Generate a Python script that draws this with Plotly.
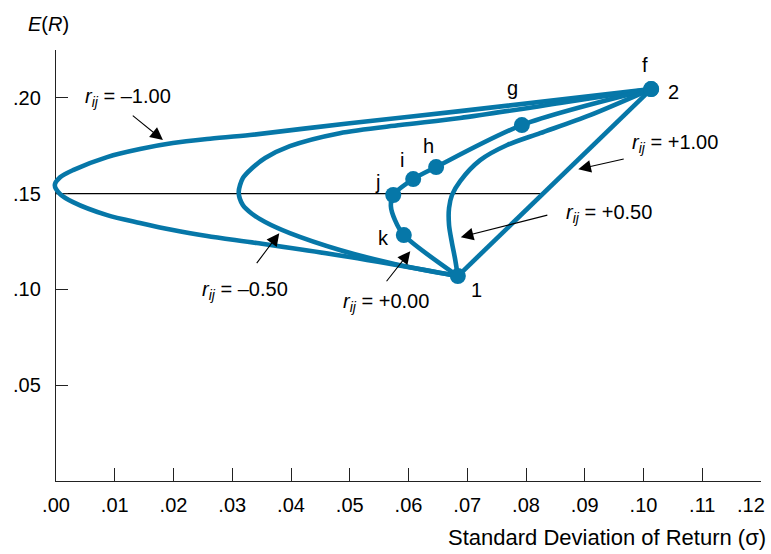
import plotly.graph_objects as go

# ---------------- data ----------------
x_tick_values = [0.00, 0.01, 0.02, 0.03, 0.04, 0.05, 0.06, 0.07, 0.08, 0.09, 0.10, 0.11, 0.12]
x_tick_labels = [".00", ".01", ".02", ".03", ".04", ".05", ".06", ".07", ".08", ".09", ".10", ".11", ".12"]
y_tick_values = [0.05, 0.10, 0.15, 0.20]
y_tick_labels = [".05", ".10", ".15", ".20"]

asset_labels = ["1", "2"]
asset_sigma = [0.0684, 0.1013]
asset_return = [0.1070, 0.2046]

portfolio_labels = ["f", "g", "h", "i", "j", "k"]
portfolio_sigma = [0.1013, 0.0793, 0.0647, 0.0608, 0.0574, 0.0592]
portfolio_return = [0.2046, 0.1858, 0.1639, 0.1576, 0.1493, 0.1284]

correlation_labels = ["\u20131.00", "\u20130.50", "+0.00", "+0.50", "+1.00"]

# r = -1.00
sigma_r_m100 = [0.0684, 0.0500, 0.0342, 0.0257, 0.0199, 0.0143, 0.0087, 0.0029, 0.0007, -0.0002,
                0.0007, 0.0029, 0.0087, 0.0143, 0.0199, 0.0257, 0.0330, 0.0500, 0.0688, 0.1013]
return_r_m100 = [0.1070, 0.1169, 0.1242, 0.1279, 0.1310, 0.1347, 0.1388, 0.1456, 0.1498, 0.1545,
                 0.1586, 0.1623, 0.1691, 0.1733, 0.1764, 0.1785, 0.1806, 0.1868, 0.1931, 0.2046]
# r = -0.50
sigma_r_m050 = [0.0684, 0.0654, 0.0569, 0.0483, 0.0398, 0.0356, 0.0334, 0.0318, 0.0311,
                0.0318, 0.0334, 0.0356, 0.0398, 0.0483, 0.0586, 0.0688, 0.0858, 0.1013]
return_r_m050 = [0.1070, 0.1086, 0.1138, 0.1206, 0.1294, 0.1352, 0.1394, 0.1441, 0.1508,
                 0.1581, 0.1634, 0.1686, 0.1748, 0.1816, 0.1858, 0.1895, 0.1973, 0.2046]
# r = 0.00
sigma_r_000 = [0.0684, 0.0592, 0.0577, 0.0570, 0.0574, 0.0608, 0.0647, 0.0793, 0.1013]
return_r_000 = [0.1070, 0.1284, 0.1362, 0.1435, 0.1493, 0.1576, 0.1639, 0.1858, 0.2046]
# r = +0.50
sigma_r_p050 = [0.0684, 0.0679, 0.0674, 0.0669, 0.0669, 0.0674, 0.0688, 0.0722, 0.0768,
                0.0824, 0.0909, 0.1013]
return_r_p050 = [0.1070, 0.1164, 0.1242, 0.1336, 0.1425, 0.1493, 0.1566, 0.1675, 0.1754,
                 0.1816, 0.1910, 0.2046]
# r = +1.00
sigma_r_p100 = [0.0684, 0.1013]
return_r_p100 = [0.1070, 0.2046]

# horizontal reference line at E(R) = .15
ref_sigma = [0.0, 0.0825]
ref_return = [0.15, 0.15]

# ---------------- styling / layout ----------------
BLUE = "#0677a8"
FONT = "Liberation Sans, Arial, Helvetica, sans-serif"
W, H = 771, 554
ML, MR, MT, MB = 46, 10, 50, 73
AX_LEFT_PX = 56                      # pixel where sigma = 0
PLOT_W = W - ML - MR
PLOT_H = H - MT - MB
x_dom0 = (AX_LEFT_PX - ML) / PLOT_W
X_MAX = 0.12
sig_per_px = X_MAX / (W - MR - AX_LEFT_PX)
x2_min = -(AX_LEFT_PX - ML) * sig_per_px
CLEAR = "rgba(0,0,0,0)"

fig = go.Figure()

# reference line on the main axes (registers the main subplot)
fig.add_trace(go.Scatter(x=ref_sigma, y=ref_return, mode="lines",
                         line=dict(color="black", width=1.1),
                         xaxis="x", yaxis="y", hoverinfo="skip", showlegend=False))

curves = [
    (sigma_r_m100, return_r_m100),
    (sigma_r_m050, return_r_m050),
    (sigma_r_000, return_r_000),
    (sigma_r_p050, return_r_p050),
    (sigma_r_p100, return_r_p100),
]
for sx, ry in curves:
    fig.add_trace(go.Scatter(x=sx, y=ry, mode="lines",
                             line=dict(color=BLUE, width=4.6, shape="spline", smoothing=0.8),
                             xaxis="x2", yaxis="y", showlegend=False, hoverinfo="skip"))

fig.add_trace(go.Scatter(x=portfolio_sigma + asset_sigma, y=portfolio_return + asset_return,
                         mode="markers", marker=dict(color=BLUE, size=16, line=dict(width=0)),
                         xaxis="x2", yaxis="y", showlegend=False, cliponaxis=False))

annotations = []
text_font = dict(family=FONT, size=20, color="black")

# point labels (pixel offsets from their markers)
label_shift = {"f": (-6, 24), "g": (-9, 37), "h": (-8, 21), "i": (-11, 19),
               "j": (-16, 13), "k": (-20, -3), "1": (19, -14), "2": (22, -3)}
for lab, sx, ry in zip(portfolio_labels + asset_labels,
                       portfolio_sigma + asset_sigma,
                       portfolio_return + asset_return):
    dx, dy = label_shift[lab]
    annotations.append(dict(x=sx, y=ry, xref="x2", yref="y", text=lab, showarrow=False,
                            xshift=dx, yshift=dy, font=text_font,
                            xanchor="center", yanchor="middle"))

# correlation labels and their arrows (text centre, arrow tail, arrow head)
corr_text_pos = [(0.0123, 0.2004), (0.0322, 0.0997), (0.0562, 0.0934), (0.0941, 0.1399), (0.1054, 0.1764)]
arrow_tail = [(0.0123, 0.1926), (0.0334, 0.1106), (0.0555, 0.1013), (0.0844, 0.1394), (0.0974, 0.1686)]
arrow_head = [(0.0182, 0.1780), (0.0380, 0.1294), (0.0603, 0.1200), (0.0689, 0.1273), (0.0889, 0.1628)]
for lab, (tx, ty), (ax_, ay_), (hx, hy) in zip(correlation_labels, corr_text_pos, arrow_tail, arrow_head):
    annotations.append(dict(x=tx, y=ty, xref="x2", yref="y",
                            text="<i>r</i><sub><i>ij</i></sub> = " + lab,
                            showarrow=False, font=text_font, xanchor="center", yanchor="middle"))
    annotations.append(dict(x=hx, y=hy, xref="x2", yref="y", ax=ax_, ay=ay_,
                            axref="x2", ayref="y", text=" ", showarrow=True,
                            arrowhead=2, arrowsize=2.3, arrowwidth=1.1, arrowcolor="black",
                            standoff=0, startstandoff=0))

# axis titles
annotations.append(dict(x=(48 - ML) / PLOT_W, y=(481 - 24) / PLOT_H,
                        xref="paper", yref="paper", text="<i>E</i>(<i>R</i>)", showarrow=False,
                        font=text_font, xanchor="center", yanchor="middle"))
annotations.append(dict(x=(768 - ML) / PLOT_W, y=(481 - 537) / PLOT_H,
                        xref="paper", yref="paper", text="Standard Deviation of Return (\u03c3)",
                        showarrow=False, font=dict(family=FONT, size=22, color="black"),
                        xanchor="right", yanchor="middle"))

# the last x tick label sits at the right edge; draw it shifted inwards so it is not cut
x_labels_shown = list(x_tick_labels)
last_label = x_labels_shown[-1]
x_labels_shown[-1] = ""
annotations.append(dict(x=(767 - ML) / PLOT_W, y=(481 - 505) / PLOT_H,
                        xref="paper", yref="paper", text=last_label, showarrow=False,
                        font=text_font, xanchor="right", yanchor="middle"))

fig.update_layout(
    width=W, height=H,
    margin=dict(l=ML, r=MR, t=MT, b=MB, pad=0),
    paper_bgcolor="white", plot_bgcolor=CLEAR,
    font=dict(family=FONT, size=20, color="black"),
    showlegend=False,
    xaxis=dict(domain=[x_dom0, 1], range=[0, X_MAX], anchor="y",
               tickmode="array", tickvals=x_tick_values, ticktext=x_labels_shown,
               ticks="inside", ticklen=13, tickwidth=1.2, tickcolor="#222",
               showline=True, linecolor="#222", linewidth=1.3,
               showgrid=False, zeroline=False, ticklabelstandoff=6,
               tickfont=dict(family=FONT, size=20, color="black")),
    xaxis2=dict(domain=[0, 1], range=[x2_min, X_MAX], anchor="y", visible=False),
    yaxis=dict(domain=[0, 1], range=[0, 0.225], anchor="x",
               tickmode="array", tickvals=y_tick_values + [0.2249], ticktext=y_tick_labels + [""],
               ticks="inside", ticklen=12, tickwidth=1.2, tickcolor="#222",
               showline=True, linecolor="#222", linewidth=1.3,
               showgrid=False, zeroline=False, ticklabelstandoff=10,
               tickfont=dict(family=FONT, size=20, color="black")),
    annotations=annotations,
)

fig.write_html("out.html",
               config={"displayModeBar": False},
               post_script="document.body.style.margin='0px';document.body.style.padding='0px';"
                           "document.body.style.overflow='hidden';")
